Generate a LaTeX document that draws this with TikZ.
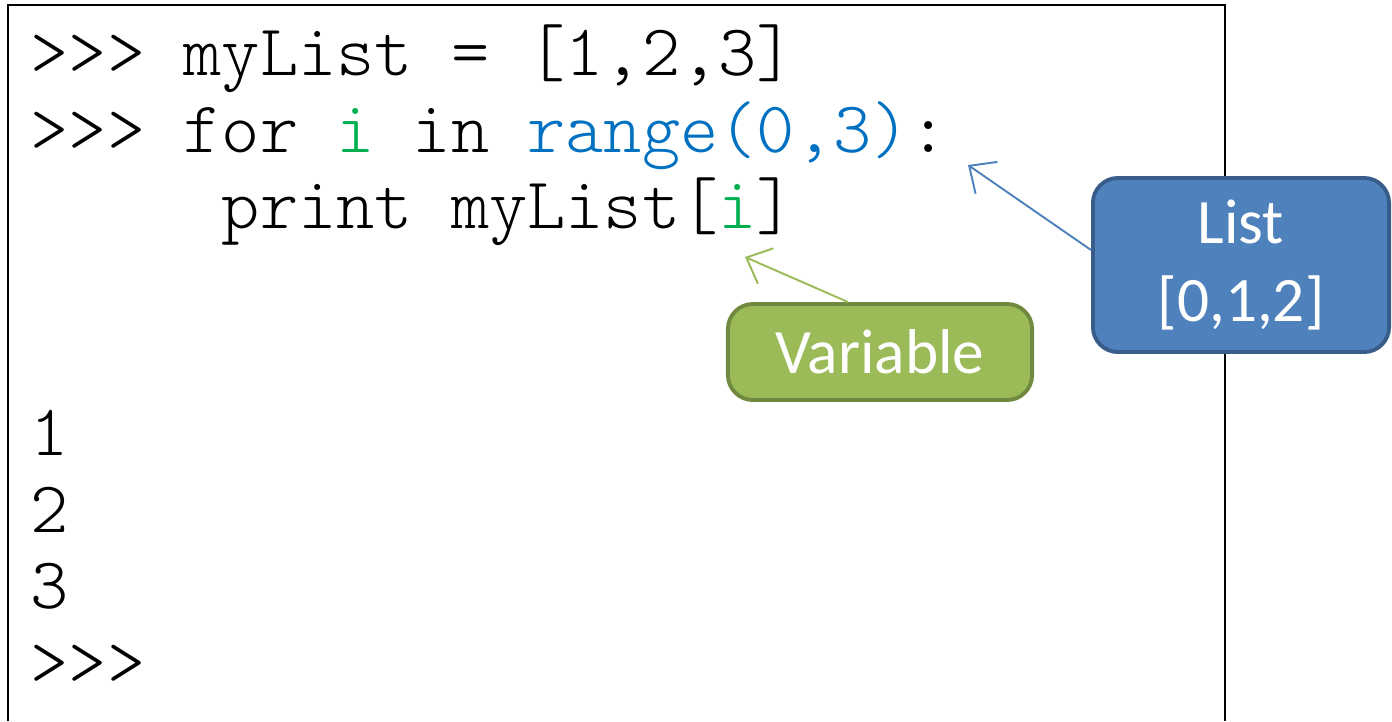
\documentclass[tikz,border=0pt]{standalone}
\usepackage{xcolor}
\usepackage{fontspec}
\setmonofont{Latin Modern Mono Light}
\newfontfamily\calloutfont{Carlito}
\usepackage{tikz}
\usetikzlibrary{arrows.meta}
\usetikzlibrary{positioning}
\definecolor{varGreen}{HTML}{00B050}
\definecolor{fnBlue}{HTML}{0070C0}
\definecolor{listFill}{HTML}{4F81BD}
\definecolor{listDraw}{HTML}{385D8A}
\definecolor{varFill}{HTML}{9BBB59}
\definecolor{varDraw}{HTML}{71893F}
\tikzstyle{codeline} = [anchor=base west, inner sep=0pt, font=\ttfamily\fontsize{20.7}{24}\selectfont]
\tikzstyle{callout} = [rectangle, rounded corners=0.25cm, line width=1.1pt, text=white, align=center, font=\calloutfont\fontsize{18}{22}\selectfont]
\tikzstyle{listbox} = [callout, fill=listFill, draw=listDraw, minimum width=2.96cm, minimum height=1.74cm]
\tikzstyle{varbox} = [callout, fill=varFill, draw=varDraw, minimum width=3.04cm, minimum height=0.96cm]
\tikzstyle{pointer} = [line width=0.55pt, -{Straight Barb[length=6pt, width=11pt]}]

\begin{document}
\begin{tikzpicture}[x=0.01cm, y=-0.01cm]
\useasboundingbox (0,0) rectangle (1392,721);
\draw [line width=0.6pt] (8,721) -- (8,5) -- (1225,5) -- (1225,721);

\node (l1) [codeline] at (30,75) {>>> myList = [1,2,3]};
\node (l2) [codeline] at (30,152) {>>> for \textcolor{varGreen}{i} in \textcolor{fnBlue}{range(0,3)}:};
\node (l3) [codeline] at (30,228) {\ \ \ \ \ print myList[\textcolor{varGreen}{i}]};
\node (o1) [codeline] at (30,455) {1};
\node (o2) [codeline] at (30,532) {2};
\node (o3) [codeline] at (30,608) {3};
\node (l4) [codeline] at (30,685) {>>>};

\node (list) [listbox] at (1241,265) {List\\{}[0,1,2]};
\node (var) [varbox] at (880,352) {Variable};

\coordinate (colon) at (968,165);
\coordinate (index) at (745,257);

\draw [pointer, draw=listFill] (list.west |- 0,250) -- (colon);
\draw [pointer, draw=varFill] (var.north -| 848,0) -- (index);
\end{tikzpicture}
\end{document}
